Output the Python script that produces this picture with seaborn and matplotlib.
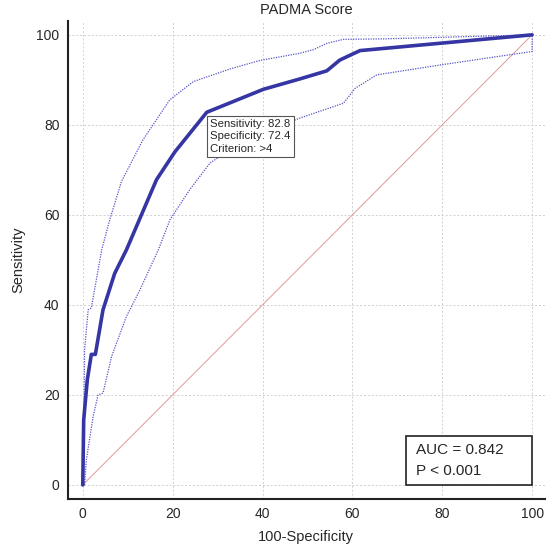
import matplotlib.pyplot as plt
import seaborn as sns
import numpy as np
import pandas as pd
from matplotlib.ticker import MultipleLocator
from matplotlib.patches import Rectangle

# ROC curve points (100-Specificity, Sensitivity)
roc_x = [0, 0.2, 1.0, 1.9, 2.8, 4.5, 7.1, 9.7, 16.4, 20.5, 27.6, 40.2, 48.3, 54.3, 57.2, 61.7, 100]
roc_y = [0, 14.4, 23.3, 29.0, 29.0, 38.9, 47.0, 52.2, 67.8, 74.0, 82.8, 87.9, 90.2, 92.0, 94.4, 96.5, 100]

# upper confidence bound
upper_x = [0, 0.2, 0.4, 1.2, 1.9, 4.2, 6.0, 8.6, 13.4, 19.4, 24.6, 32.7, 39.4, 48.3, 51.3, 54.3, 58.0, 66.9, 100]
upper_y = [0, 7.8, 30.0, 38.9, 39.3, 52.2, 58.9, 67.4, 76.7, 85.6, 89.6, 92.4, 94.3, 95.9, 96.7, 98.1, 99.0, 99.1, 100]

# lower confidence bound
lower_x = [0.4, 0.8, 1.6, 2.3, 3.4, 4.5, 6.4, 9.7, 12.7, 16.8, 19.4, 23.8, 28.3, 35.0, 42.0, 48.3, 58.0, 60.6, 65.4, 79.5, 100, 100]
lower_y = [0, 5.6, 10.7, 15.2, 20.0, 20.4, 28.5, 37.4, 43.3, 52.2, 58.9, 65.6, 71.5, 76.0, 79.0, 81.5, 84.8, 88.1, 91.1, 93.3, 96.3, 100]

diag = [0, 100]

sns.set_style("white")
plt.rcParams['font.family'] = ['Liberation Sans', 'DejaVu Sans']

fig = plt.figure(figsize=(5.48, 5.47), dpi=100)
ax = fig.add_axes([0.124, 0.088, 0.87, 0.873])

navy = '#3535a3'
sns.lineplot(x=diag, y=diag, color='#dd9a9c', linewidth=0.7, ax=ax)
sns.lineplot(x=upper_x, y=upper_y, sort=False, estimator=None, color='#5555c8',
             linewidth=0.9, linestyle=(0, (1, 1)), ax=ax)
sns.lineplot(x=lower_x, y=lower_y, sort=False, estimator=None, color='#5555c8',
             linewidth=0.9, linestyle=(0, (1, 1)), ax=ax)
sns.lineplot(x=roc_x, y=roc_y, sort=False, estimator=None, color=navy,
             linewidth=2.6, ax=ax)

ax.set_xlim(-3.3, 102.8)
ax.set_ylim(-3.1, 103)
ax.xaxis.set_major_locator(MultipleLocator(20))
ax.yaxis.set_major_locator(MultipleLocator(20))
ax.xaxis.set_minor_locator(MultipleLocator(5))
ax.yaxis.set_minor_locator(MultipleLocator(5))
ax.tick_params(which='major', direction='in', length=11, width=2, color='#222222',
               labelsize=10, pad=6)
ax.tick_params(which='minor', direction='in', length=5.5, width=1, color='#444444')
ax.grid(True, which='major', linestyle=(0, (2, 2)), color='#d0d0d0', linewidth=0.7)
ax.set_axisbelow(True)
for s in ['top', 'right']:
    ax.spines[s].set_visible(False)
for s in ['left', 'bottom']:
    ax.spines[s].set_color('#222222')
    ax.spines[s].set_linewidth(1.5)

ax.set_title('PADMA Score', fontsize=10.5, pad=5)
ax.set_xlabel('100-Specificity', fontsize=10.5, labelpad=6)
ax.set_ylabel('Sensitivity', fontsize=10.5, labelpad=8)

ax.text(28.4, 81.3, 'Sensitivity: 82.8\nSpecificity: 72.4\nCriterion: >4',
        fontsize=8.2, va='top', ha='left', linespacing=1.3, zorder=5,
        bbox=dict(boxstyle='square,pad=0.3', facecolor='white', edgecolor='#555555', linewidth=0.8))

ax.add_patch(Rectangle((71.9, 0), 28.1, 10.9, facecolor='white', edgecolor='#222222',
                       linewidth=1.2, zorder=5))
ax.text(74.2, 7.8, 'AUC = 0.842', fontsize=11, va='center', ha='left', zorder=6)
ax.text(74.2, 3.2, 'P < 0.001', fontsize=11, va='center', ha='left', zorder=6)

fig.savefig('out.png', dpi=100)
